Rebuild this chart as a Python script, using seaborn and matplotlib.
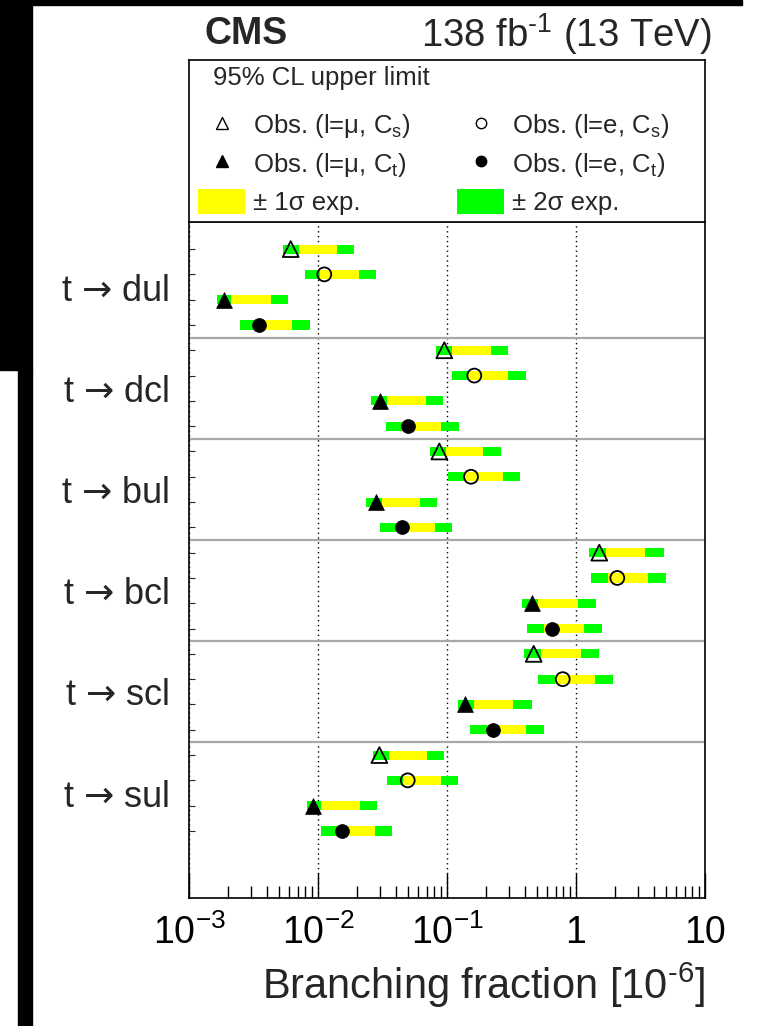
import numpy as np
import pandas as pd
import matplotlib
matplotlib.use("Agg")
import matplotlib.pyplot as plt
import seaborn as sns
from matplotlib.lines import Line2D
from matplotlib.patches import Patch, Rectangle
from matplotlib.ticker import LogLocator, NullFormatter

# ---------------- data ----------------
processes = ["t → dul", "t → dcl", "t → bul", "t → bcl", "t → scl", "t → sul"]
channels = ["mu_Cs", "e_Cs", "mu_Ct", "e_Ct"]

# observed 95% CL upper limits [1e-6]
obs_mu_Cs = [0.00614, 0.0953, 0.0872, 1.516, 0.470, 0.0299]
obs_e_Cs = [0.01119, 0.1628, 0.1535, 2.090, 0.789, 0.0496]
obs_mu_Ct = [0.00187, 0.0302, 0.0282, 0.456, 0.138, 0.00910]
obs_e_Ct = [0.00347, 0.0498, 0.0450, 0.652, 0.2285, 0.01535]

# expected bands: -2s, -1s, +1s, +2s
m2_mu_Cs = [0.00538, 0.0822, 0.0738, 1.268, 0.395, 0.0268]
m1_mu_Cs = [0.00716, 0.1088, 0.0977, 1.699, 0.533, 0.0357]
p1_mu_Cs = [0.01412, 0.2182, 0.1912, 3.445, 1.087, 0.0704]
p2_mu_Cs = [0.01901, 0.2955, 0.2608, 4.810, 1.508, 0.0953]

m2_e_Cs = [0.00797, 0.1100, 0.1013, 1.314, 0.510, 0.0341]
m1_e_Cs = [0.01036, 0.1463, 0.1362, 1.761, 0.687, 0.0454]
p1_e_Cs = [0.02090, 0.2987, 0.2703, 3.615, 1.404, 0.0894]
p2_e_Cs = [0.02816, 0.4098, 0.3680, 4.985, 1.946, 0.1210]

m2_mu_Ct = [0.00164, 0.0258, 0.0234, 0.3835, 0.121, 0.00818]
m1_mu_Ct = [0.00212, 0.0345, 0.0312, 0.510, 0.1628, 0.01055]
p1_mu_Ct = [0.00430, 0.0684, 0.0618, 1.042, 0.3266, 0.02116]
p2_mu_Ct = [0.00585, 0.0926, 0.0832, 1.429, 0.4535, 0.02867]

m2_e_Ct = [0.00248, 0.0337, 0.0302, 0.419, 0.1508, 0.01061]
m1_e_Ct = [0.00325, 0.0445, 0.0402, 0.565, 0.2032, 0.01396]
p1_e_Ct = [0.00629, 0.0898, 0.0807, 1.153, 0.4098, 0.02766]
p2_e_Ct = [0.00867, 0.1232, 0.1100, 1.591, 0.5679, 0.03747]

xtick_vals = [1e-3, 1e-2, 1e-1, 1, 10]
xtick_labels = [r"$10^{-3}$", r"$10^{-2}$", r"$10^{-1}$", "1", "10"]

legend_labels = [r"Obs. (l=μ, C$_{\mathrm{s}}$)", r"Obs. (l=e, C$_{\mathrm{s}}$)",
                 r"Obs. (l=μ, C$_{\mathrm{t}}$)", r"Obs. (l=e, C$_{\mathrm{t}}$)",
                 r"± 1σ exp.", r"± 2σ exp."]

# ---------------- table ----------------
obs = {"mu_Cs": obs_mu_Cs, "e_Cs": obs_e_Cs, "mu_Ct": obs_mu_Ct, "e_Ct": obs_e_Ct}
m2 = {"mu_Cs": m2_mu_Cs, "e_Cs": m2_e_Cs, "mu_Ct": m2_mu_Ct, "e_Ct": m2_e_Ct}
m1 = {"mu_Cs": m1_mu_Cs, "e_Cs": m1_e_Cs, "mu_Ct": m1_mu_Ct, "e_Ct": m1_e_Ct}
p1 = {"mu_Cs": p1_mu_Cs, "e_Cs": p1_e_Cs, "mu_Ct": p1_mu_Ct, "e_Ct": p1_e_Ct}
p2 = {"mu_Cs": p2_mu_Cs, "e_Cs": p2_e_Cs, "mu_Ct": p2_mu_Ct, "e_Ct": p2_e_Ct}

rows = []
for g, proc in enumerate(processes):
    for c, ch in enumerate(channels):
        rows.append(dict(process=proc, channel=ch, row=len(channels) * g + c,
                         obs=obs[ch][g], m2=m2[ch][g], m1=m1[ch][g],
                         p1=p1[ch][g], p2=p2[ch][g]))
df = pd.DataFrame(rows)

# ---------------- style ----------------
sns.set_theme(style="white")
plt.rcParams["font.family"] = ["Liberation Sans", "DejaVu Sans"]
plt.rcParams["mathtext.fontset"] = "custom"
plt.rcParams["mathtext.rm"] = "Liberation Sans"
plt.rcParams["mathtext.it"] = "Liberation Sans:italic"
plt.rcParams["mathtext.bf"] = "Liberation Sans:bold"
plt.rcParams["mathtext.sf"] = "Noto Sans CJK SC"
plt.rcParams["mathtext.default"] = "regular"

W, H = 765, 1026
fig = plt.figure(figsize=(W / 100, H / 100), dpi=100)
fig.patch.set_facecolor("white")

def fx(px):
    return px / W

def fy(py):
    return 1 - py / H

ax_l, ax_r, ax_t, ax_b = 189, 705, 222, 898
ax = fig.add_axes([fx(ax_l), fy(ax_b), (ax_r - ax_l) / W, (ax_b - ax_t) / H])

GREEN = "#00ff00"
YELLOW = "#ffff00"
bar_h = 0.36

ax.barh(df["row"], df["p2"] - df["m2"], left=df["m2"], height=bar_h,
        color=GREEN, linewidth=0, zorder=3)
ax.barh(df["row"], df["p1"] - df["m1"], left=df["m1"], height=bar_h,
        color=YELLOW, linewidth=0, zorder=4)

marker_style = {
    "mu_Cs": dict(marker="^", facecolor="none", edgecolor="black", s=130, linewidth=1.3),
    "e_Cs": dict(marker="o", facecolor="none", edgecolor="black", s=100, linewidth=1.3),
    "mu_Ct": dict(marker="^", color="black", edgecolor="black", s=130, linewidth=0.5),
    "e_Ct": dict(marker="o", color="black", edgecolor="black", s=100, linewidth=0.5),
}
for ch in channels:
    sub = df[df["channel"] == ch]
    sns.scatterplot(data=sub, x="obs", y="row", ax=ax, zorder=6, legend=False,
                    **marker_style[ch])

ax.set_xscale("log")
ax.set_xlim(xtick_vals[0], xtick_vals[-1])
n_rows = len(df)
ax.set_ylim(n_rows - 1 + 2.65, -1.07)

# group separators
for g in range(1, len(processes)):
    ax.axhline(len(channels) * g - 0.5, color="#a8a8a8", lw=1.6, zorder=1)

# grid
ax.grid(axis="x", which="major", linestyle=(0, (1, 2.5)), color="black", lw=1.0, zorder=0)
ax.grid(axis="y", visible=False)

ax.set_xticks(xtick_vals)
ax.set_xticklabels(xtick_labels, fontsize=27)
ax.xaxis.set_minor_locator(LogLocator(base=10, subs=np.arange(2, 10)))
ax.xaxis.set_minor_formatter(NullFormatter())
ax.tick_params(axis="x", which="major", direction="in", length=18, width=1, pad=12,
               bottom=True, top=False, colors="black")
ax.tick_params(axis="x", which="minor", direction="in", length=9, width=1,
               bottom=True, top=False, color="black")

centers = [len(channels) * g + (len(channels) - 1) / 2 for g in range(len(processes))]
ax.set_yticks(centers)
shown = [p.replace("→", r"$\mathsf{→}$") for p in processes]
ax.set_yticklabels(shown, fontsize=26)
ax.set_yticks(df["row"], minor=True)
ax.tick_params(axis="y", which="major", length=0, pad=14.5, left=True)
ax.tick_params(axis="y", which="minor", direction="in", length=4, width=0.8, left=True, right=False)
ax.set_ylabel("")

ax.set_xlabel(r"Branching fraction [10$^{\text{-}6}$]", fontsize=30, loc="right", labelpad=6)

for s in ax.spines.values():
    s.set_color("black")
    s.set_linewidth(1.2)
ax.spines["top"].set_color("#555555")

# ---------------- legend box ----------------
lax = fig.add_axes([fx(ax_l), fy(ax_t), (ax_r - ax_l) / W, (ax_t - 60) / H])
lax.set_xticks([])
lax.set_yticks([])
lax.set_facecolor("white")
for s in lax.spines.values():
    s.set_color("black")
    s.set_linewidth(1.2)
lax.text(24 / 516, 1 - 18 / 162, "95% CL upper limit", fontsize=18.5,
         va="center", ha="left", transform=lax.transAxes)

h_mu_Cs = Line2D([], [], marker="^", ls="none", mfc="none", mec="black", ms=8, mew=1.0)
h_mu_Ct = Line2D([], [], marker="^", ls="none", mfc="black", mec="black", ms=8)
h_e_Cs = Line2D([], [], marker="o", ls="none", mfc="none", mec="black", ms=7.5, mew=1.0)
h_e_Ct = Line2D([], [], marker="o", ls="none", mfc="black", mec="black", ms=7.5)
h_y = Patch(facecolor=YELLOW, edgecolor="none")
h_g = Patch(facecolor=GREEN, edgecolor="none")

common = dict(loc="upper left", frameon=False, fontsize=18.5, handlelength=1.83,
              handleheight=1.13, handletextpad=0.3, labelspacing=0.4,
              borderpad=0, borderaxespad=0)
leg1 = lax.legend([h_mu_Cs, h_mu_Ct, h_y], [legend_labels[0], legend_labels[2], legend_labels[4]],
                  bbox_to_anchor=((198 - 189) / 516, 1 - (112 - 60) / 162), **common)
lax.add_artist(leg1)
leg2 = lax.legend([h_e_Cs, h_e_Ct, h_g], [legend_labels[1], legend_labels[3], legend_labels[5]],
                  bbox_to_anchor=((457 - 189) / 516, 1 - (112 - 60) / 162), **common)

# ---------------- header ----------------
fig.text(fx(205), fy(34), "CMS", fontsize=27, fontweight="bold", ha="left", va="center")
fig.text(fx(712), fy(34), r"138 fb$^{\text{-}1}$ (13 TeV)", fontsize=27.5, ha="right", va="center")

# ---------------- screenshot border ----------------
def black_rect(x0, y0, x1, y1):
    fig.add_artist(Rectangle((fx(x0), fy(y1)), (x1 - x0) / W, (y1 - y0) / H,
                             transform=fig.transFigure, color="black", zorder=10))

black_rect(0, 0, 742, 5)
black_rect(0, 0, 32, 370)
black_rect(18, 370, 32, H)

fig.savefig("out.png", dpi=100)
